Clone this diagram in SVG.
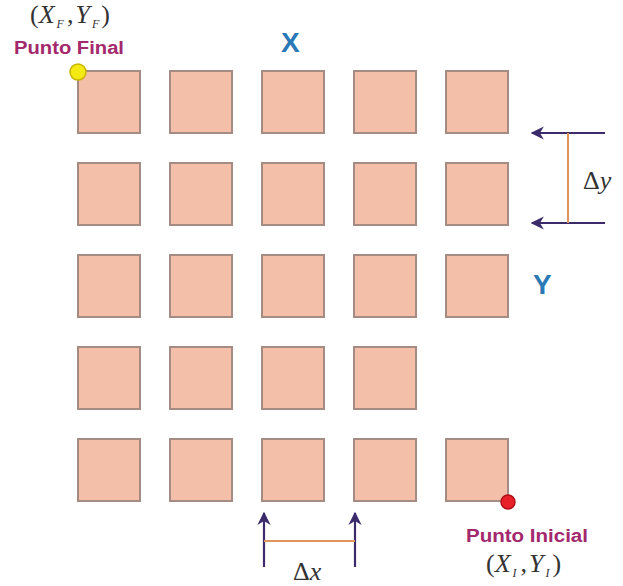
<svg xmlns="http://www.w3.org/2000/svg" width="623" height="586" viewBox="0 0 623 586">
<style>
.sq{fill:#f4bfa9;stroke:#a48c84;stroke-width:2}
.lbl{font-family:"Liberation Sans",Arial,sans-serif;font-weight:bold;font-size:17.5px;fill:#a3286c}
.ax{font-family:"Liberation Sans",Arial,sans-serif;font-weight:bold;font-size:28px;fill:#2a78b6}
.math{font-family:"Liberation Serif","Times New Roman",serif;font-size:26px;fill:#333}
.mi{font-style:italic}
.sub{font-style:italic;font-size:12px}
.arr{stroke:#3b2b6b;stroke-width:2.2;fill:none}
.dim{stroke:#e0955a;stroke-width:2}
</style>
<defs>
<marker id="ah" viewBox="0 0 10 10" refX="9" refY="5" markerWidth="6" markerHeight="6" orient="auto">
<path d="M0,0 L10,5 L0,10 L3,5 Z" fill="#3b2b6b"/>
</marker>
</defs>
<g id="grid">
<g id="r1"><rect class="sq" x="78" y="71" width="62" height="62"/><rect class="sq" x="170" y="71" width="62" height="62"/><rect class="sq" x="262" y="71" width="62" height="62"/><rect class="sq" x="354" y="71" width="62" height="62"/><rect class="sq" x="446" y="71" width="62" height="62"/></g>
<g id="r2"><rect class="sq" x="78" y="163" width="62" height="62"/><rect class="sq" x="170" y="163" width="62" height="62"/><rect class="sq" x="262" y="163" width="62" height="62"/><rect class="sq" x="354" y="163" width="62" height="62"/><rect class="sq" x="446" y="163" width="62" height="62"/></g>
<g id="r3"><rect class="sq" x="78" y="255" width="62" height="62"/><rect class="sq" x="170" y="255" width="62" height="62"/><rect class="sq" x="262" y="255" width="62" height="62"/><rect class="sq" x="354" y="255" width="62" height="62"/><rect class="sq" x="446" y="255" width="62" height="62"/></g>
<g id="r4"><rect class="sq" x="78" y="347" width="62" height="62"/><rect class="sq" x="170" y="347" width="62" height="62"/><rect class="sq" x="262" y="347" width="62" height="62"/><rect class="sq" x="354" y="347" width="62" height="62"/></g>
<g id="r5"><rect class="sq" x="78" y="439" width="62" height="62"/><rect class="sq" x="170" y="439" width="62" height="62"/><rect class="sq" x="262" y="439" width="62" height="62"/><rect class="sq" x="354" y="439" width="62" height="62"/><rect class="sq" x="446" y="439" width="62" height="62"/></g>
</g>
<g id="connectors">
<line class="arr" x1="605" y1="133" x2="532" y2="133" marker-end="url(#ah)"/>
<line class="arr" x1="605" y1="223" x2="532" y2="223" marker-end="url(#ah)"/>
<line class="dim" x1="568" y1="133" x2="568" y2="223"/>
<line class="arr" x1="264" y1="567" x2="264" y2="513" marker-end="url(#ah)"/>
<line class="arr" x1="355" y1="567" x2="355" y2="513" marker-end="url(#ah)"/>
<line class="dim" x1="264" y1="541" x2="355" y2="541"/>
</g>
<g id="final">
<circle cx="78" cy="72" r="8" fill="#f2ea12" stroke="#c8b400" stroke-width="1.5"/>
<text class="lbl" x="14" y="54" textLength="110" lengthAdjust="spacingAndGlyphs">Punto Final</text>
<text class="math" x="30" y="23">(<tspan class="mi">X</tspan><tspan class="sub" dx="2" dy="5">F</tspan><tspan dy="-5" dx="3">,</tspan><tspan class="mi" dx="2">Y</tspan><tspan class="sub" dx="2" dy="5">F</tspan><tspan dy="-5" dx="2">)</tspan></text>
</g>
<g id="inicial">
<circle cx="508" cy="502" r="7" fill="#e8202a" stroke="#b01018" stroke-width="1.5"/>
<text class="lbl" x="466" y="542" textLength="122" lengthAdjust="spacingAndGlyphs">Punto Inicial</text>
<text class="math" x="486" y="572">(<tspan class="mi">X</tspan><tspan class="sub" dx="2" dy="5">I</tspan><tspan dy="-5" dx="4">,</tspan><tspan class="mi" dx="2">Y</tspan><tspan class="sub" dx="2" dy="5">I</tspan><tspan dy="-5" dx="3">)</tspan></text>
</g>
<g id="axes">
<text class="ax" x="281" y="52">X</text>
<text class="ax" x="533" y="294">Y</text>
</g>
<g id="deltas">
<text class="math" x="583" y="189" font-size="28">Δ<tspan class="mi">y</tspan></text>
<text class="math" x="293" y="580" font-size="28">Δ<tspan class="mi">x</tspan></text>
</g>
</svg>
